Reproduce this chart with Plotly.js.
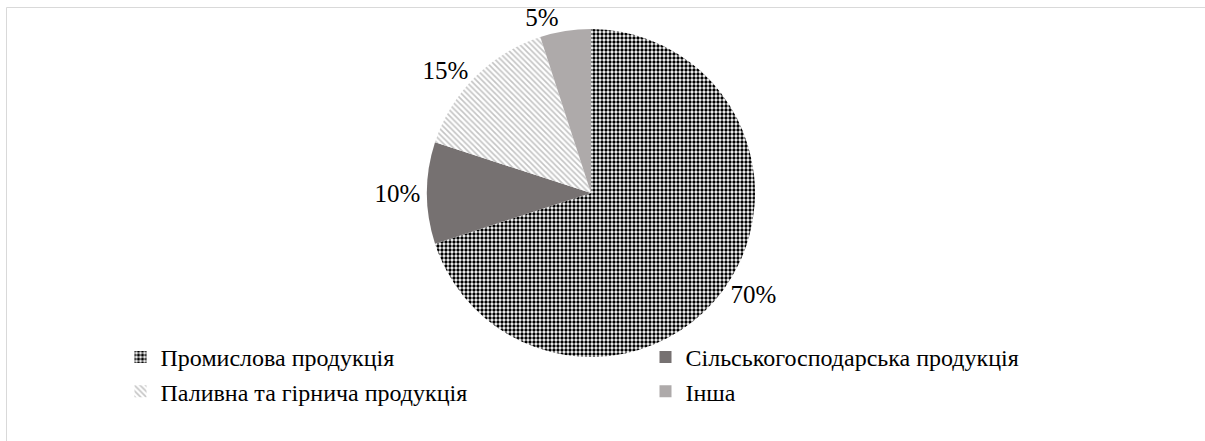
<!DOCTYPE html>
<html>
<head>
<meta charset="utf-8">
<script src="https://cdn.plot.ly/plotly-3.0.1.min.js"></script>
<style>html,body{margin:0;padding:0;background:#fff;}#chart{width:1205px;height:441px;}</style>
</head>
<body>
<div id="chart"></div>
<script>
const categories = ["Промислова продукція", "Сільськогосподарська продукція", "Паливна та гірнича продукція", "Інша"];
const shares = [70, 10, 15, 5];

const fillColors = ["#ffffff", "#767171", "#ffffff", "#aeaaaa"];
const patShapes = [".", "", "\\", ""];
const patFg = ["#000000", "#767171", "#c4c4c4", "#aeaaaa"];
const patSolidity = [0.55, 0.5, 0.4, 0.5];
const FONT = "Liberation Serif, DejaVu Serif, serif";

const W = 1205, H = 441;
const cx = 591, cy = 193, r = 164;

const trace = {
  type: "pie",
  labels: categories,
  values: shares,
  sort: false,
  direction: "clockwise",
  rotation: 0,
  textposition: "outside",
  textinfo: "percent",
  texttemplate: "%{percent:.0%}",
  automargin: false,
  outsidetextfont: {family: FONT, size: 25, color: "#000"},
  marker: {
    colors: fillColors,
    line: {width: 0},
    pattern: {shape: patShapes, fgcolor: patFg, bgcolor: fillColors, fgopacity: 1, size: 4, solidity: patSolidity, fillmode: "replace"}
  },
  domain: {x: [(cx - r) / W, (cx + r) / W], y: [1 - (cy + r) / H, 1 - (cy - r) / H]},
  hoverinfo: "label+percent"
};

const layout = {
  width: W, height: H,
  margin: {l: 0, r: 0, t: 0, b: 0, autoexpand: false},
  paper_bgcolor: "#fff",
  font: {family: FONT, size: 24, color: "#000"},
  showlegend: true,
  legend: {
    orientation: "h",
    x: 0.1, xanchor: "left",
    y: 1 - 335 / H, yanchor: "top",
    entrywidth: 480, entrywidthmode: "pixels",
    font: {family: FONT, size: 24, color: "#000"},
    bgcolor: "rgba(0,0,0,0)",
    tracegroupgap: 0
  },
  shapes: [{
    type: "rect", xref: "paper", yref: "paper",
    x0: 6.5 / W, x1: 1.05, y0: -0.05, y1: 1 - 7.5 / H,
    line: {color: "#d9d9d9", width: 1}, fillcolor: "rgba(0,0,0,0)"
  }]
};

Plotly.newPlot("chart", [trace], layout, {displayModeBar: false, staticPlot: true});
</script>
</body>
</html>
